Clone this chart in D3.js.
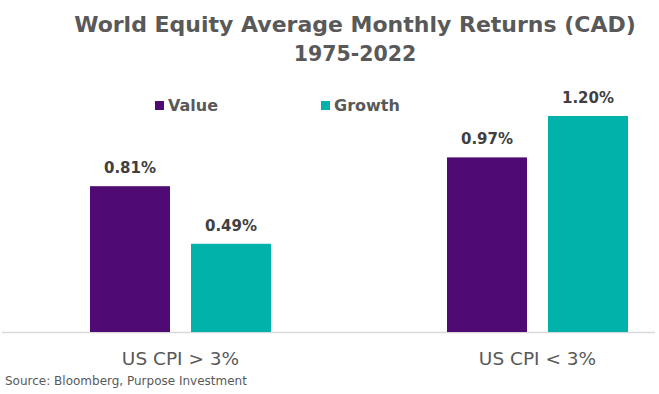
<!DOCTYPE html>
<html><head><meta charset="utf-8">
<script src="https://cdn.jsdelivr.net/npm/d3@7"></script>
<style>body{margin:0;background:#fff}svg{display:block}text{font-family:"DejaVu Sans",sans-serif}</style>
</head><body><svg id="c" width="659" height="394"></svg>
<script>
const categories = ["US CPI > 3%", "US CPI < 3%"];
const seriesNames = ["Value", "Growth"];
const valueSeries = [0.81, 0.97];
const growthSeries = [0.49, 1.20];
const colors = ["#4F0A73", "#00B2A9"];
const titleLines = ["World Equity Average Monthly Returns (CAD)", "1975-2022"];
const source = "Source: Bloomberg, Purpose Investment";

const svg = d3.select("#c");
const data = categories.map((c,i)=>({cat:c, vals:[{s:"Value",v:valueSeries[i]},{s:"Growth",v:growthSeries[i]}]}));
const baseY = 332;
const y = d3.scaleLinear().domain([0, 1.2]).range([baseY, 116]);
const x0 = d3.scaleBand().domain(categories).range([2, 716]).padding(0);
const bw = x0.bandwidth();
const x1 = d3.scaleBand().domain(seriesNames).range([(bw-181)/2, (bw+181)/2]).paddingInner(0.208).paddingOuter(0);
const color = d3.scaleOrdinal().domain(seriesNames).range(colors);

// title
const tSizes = [22, 20.5];
svg.selectAll("text.title").data(titleLines).enter().append("text")
  .attr("class","title").attr("x",355).attr("y",(d,i)=>32+i*29)
  .attr("text-anchor","middle").attr("font-size",(d,i)=>tSizes[i]).attr("font-weight","bold").attr("fill","#595959")
  .text(d=>d);

// legend
const legX = [155, 321];
const leg = svg.selectAll("g.leg").data(seriesNames).enter().append("g").attr("class","leg")
  .attr("transform",(d,i)=>`translate(${legX[i]},101)`);
leg.append("rect").attr("width",9).attr("height",9).attr("fill",d=>color(d));
leg.append("text").attr("x",13).attr("y",10).attr("font-size",16).attr("fill","#595959").attr("font-weight","bold").text(d=>d);

// axis line
svg.append("line").attr("x1",2).attr("x2",655).attr("y1",baseY+0.5).attr("y2",baseY+0.5).attr("stroke","#d9d9d9").attr("stroke-width",1.5);

const g = svg.selectAll("g.grp").data(data).enter().append("g").attr("class","grp")
  .attr("transform",d=>`translate(${x0(d.cat)},0)`);
g.selectAll("rect").data(d=>d.vals).enter().append("rect")
  .attr("x",d=>x1(d.s)).attr("width",x1.bandwidth())
  .attr("y",d=>y(d.v)).attr("height",d=>baseY-y(d.v)).attr("fill",d=>color(d.s));
g.selectAll("text.lab").data(d=>d.vals).enter().append("text").attr("class","lab")
  .attr("x",d=>x1(d.s)+x1.bandwidth()/2).attr("y",d=>y(d.v)-13)
  .attr("text-anchor","middle").attr("font-size",15).attr("font-weight","bold").attr("fill","#404040")
  .text(d=>d.v.toFixed(2)+"%");

// category labels
svg.selectAll("text.cat").data(categories).enter().append("text").attr("class","cat")
  .attr("x",d=>x0(d)+bw/2).attr("y",365).attr("text-anchor","middle")
  .attr("font-size",18.5).attr("fill","#595959").text(d=>d);

svg.append("text").attr("x",5).attr("y",385).attr("font-size",12).attr("fill","#595959").text(source);
</script></body></html>
